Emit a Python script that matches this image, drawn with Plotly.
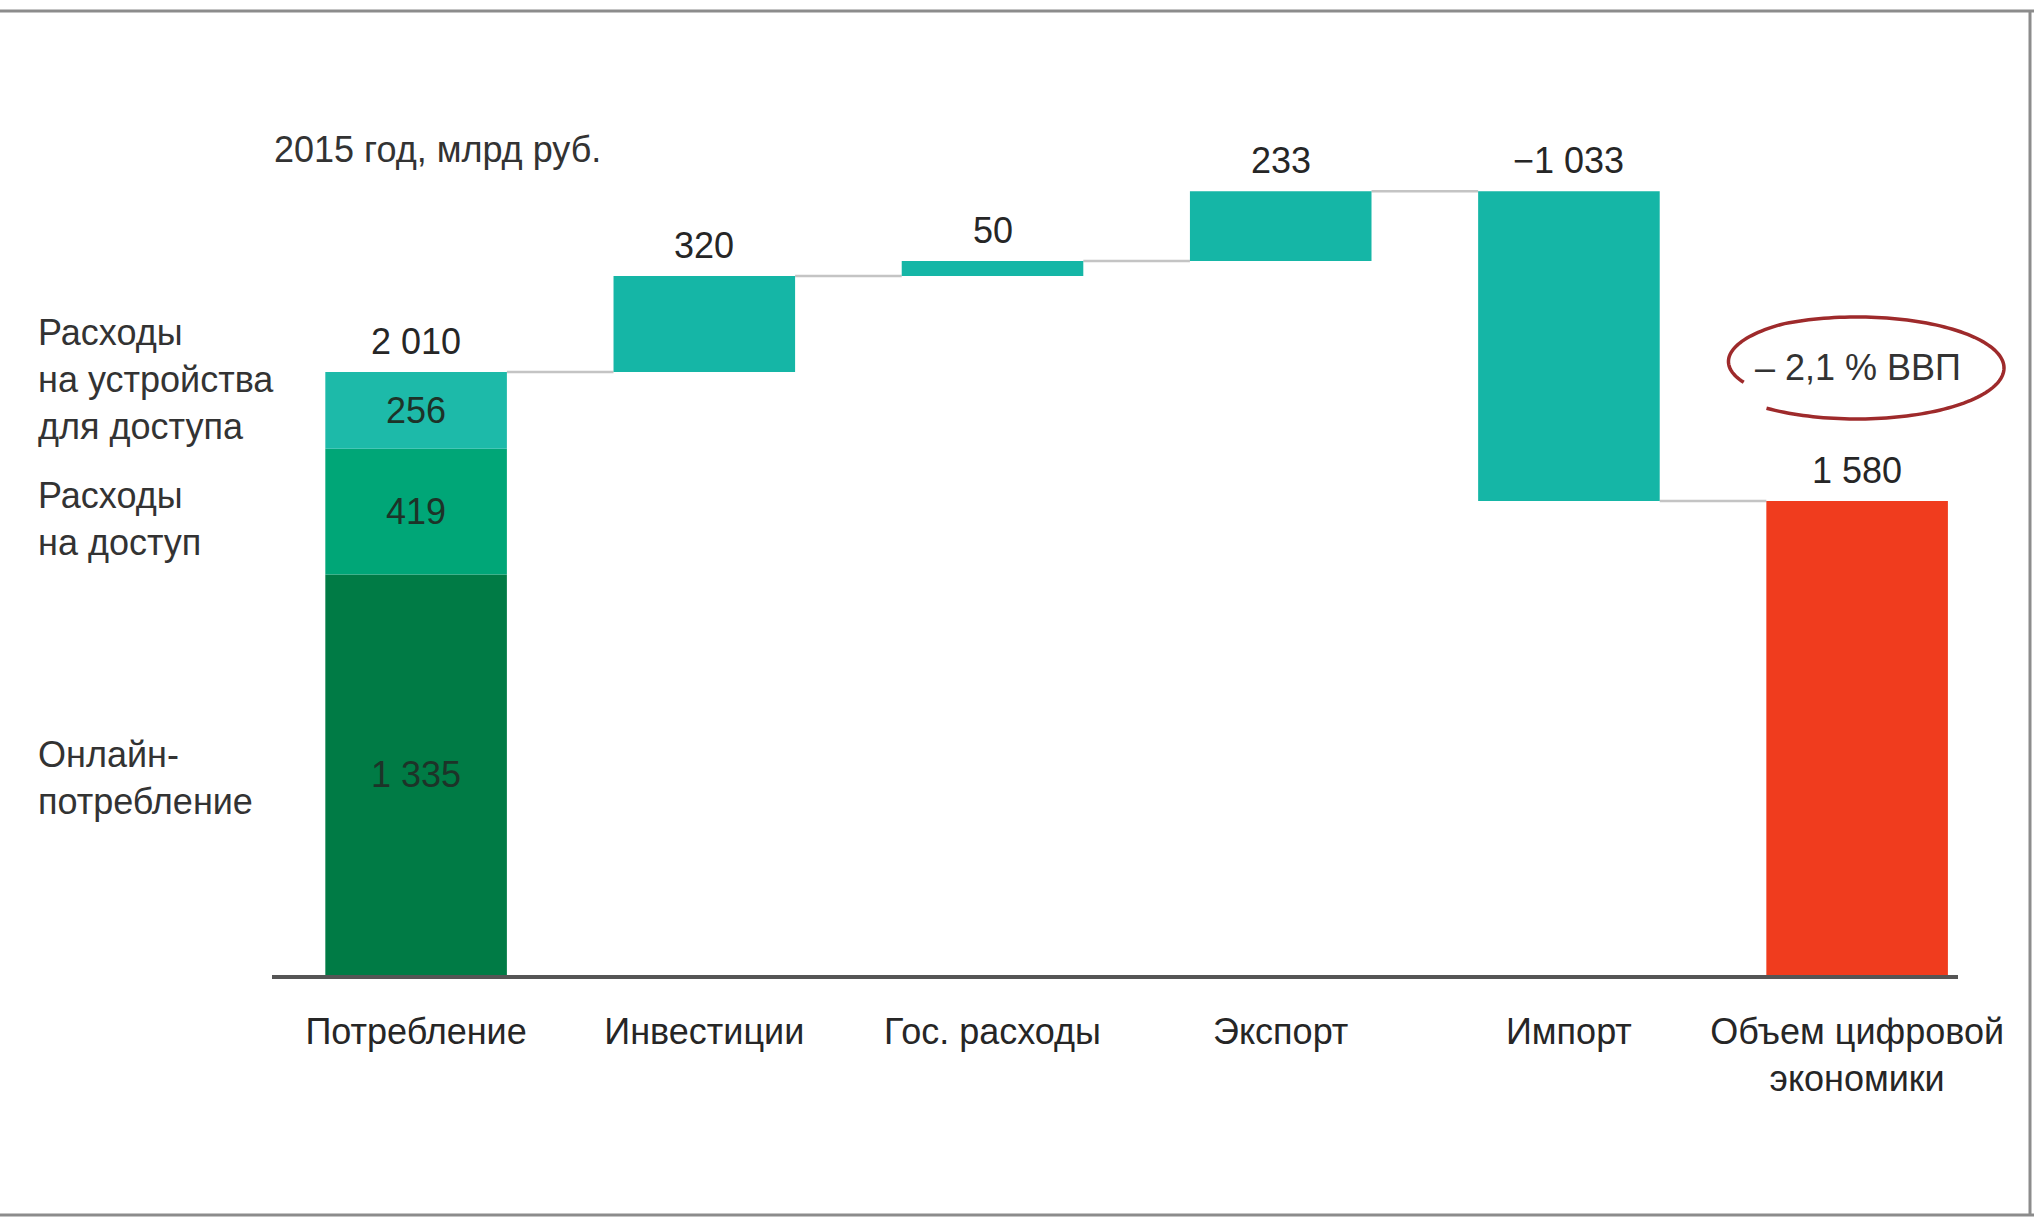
import numpy as np
import plotly.graph_objects as go

# ---------------- data ----------------
categories = ["Потребление", "Инвестиции", "Гос. расходы", "Экспорт", "Импорт",
              "Объем цифровой<br>экономики"]
consumption_parts = [1335, 419, 256]
consumption_part_labels = ["1 335", "419", "256"]
consumption_part_names = ["Онлайн-<br>потребление", "Расходы<br>на доступ",
                          "Расходы<br>на устройства<br>для доступа"]
deltas = [320, 50, 233, -1033]          # Инвестиции, Гос. расходы, Экспорт, Импорт
total_value = 1580
value_labels = ["2 010", "320", "50", "233", "−1 033", "1 580"]
subtitle = "2015 год, млрд руб."
gdp_note = "– 2,1 % ВВП"

# ---------------- style ----------------
W, H = 2034, 1220
ML, MR, MT, MB = 272, 76, 100, 245
FONT = "Liberation Sans, Arial, sans-serif"
FS = 36
TXT = "#262626"
part_colors = ["#007B45", "#00A677", "#1DBAA9"]
teal = "#15B6A6"
red = "#F03C1E"
BW = 0.63


def px(xp):
    return (xp - ML) / (W - ML - MR)


def py(yp):
    return (H - MB - yp) / (H - MT - MB)


fig = go.Figure()

# stacked consumption bar
base = 0
for val, lab, col in zip(consumption_parts, consumption_part_labels, part_colors):
    fig.add_trace(go.Bar(x=[0], y=[val], base=[base], width=BW, marker_color=col,
                         marker_line_width=0, text=[lab], textposition="inside",
                         insidetextanchor="middle", textangle=0,
                         textfont=dict(size=FS, color="#1d3328", family=FONT),
                         showlegend=False, hoverinfo="skip"))
    base += val
consumption_total = base

# delta bars
level = consumption_total
d_x, d_base, d_h, tops, levels = [], [], [], [consumption_total], [consumption_total]
for i, d in enumerate(deltas):
    new = level + d
    d_x.append(i + 1)
    d_base.append(min(level, new))
    d_h.append(abs(d))
    tops.append(max(level, new))
    level = new
    levels.append(level)
fig.add_trace(go.Bar(x=d_x, y=d_h, base=d_base, width=BW, marker_color=teal,
                     marker_line_width=0, showlegend=False, hoverinfo="skip"))

# total bar
fig.add_trace(go.Bar(x=[5], y=[total_value], base=[0], width=BW, marker_color=red,
                     marker_line_width=0, showlegend=False, hoverinfo="skip"))
tops.append(total_value)

# connectors
for i in range(5):
    fig.add_shape(type="line", xref="x", yref="y",
                  x0=i + BW / 2, x1=i + 1 - BW / 2, y0=levels[i], y1=levels[i],
                  line=dict(color="#c4c4c4", width=2.5), layer="below")

# value labels above bars
for i, (t, lab) in enumerate(zip(tops, value_labels)):
    fig.add_annotation(x=i, y=t, text=lab, showarrow=False, yanchor="middle",
                       yshift=31, font=dict(size=FS, color=TXT, family=FONT))

# left labels for consumption parts
left_label_y = [778, 519, 380]
for name, yp in zip(consumption_part_names, left_label_y):
    fig.add_annotation(xref="paper", yref="paper", x=px(36), y=py(yp), text=name,
                       showarrow=False, xanchor="left", yanchor="middle", align="left",
                       font=dict(size=FS, color="#333333", family=FONT))

# subtitle
fig.add_annotation(xref="paper", yref="paper", x=px(272), y=py(149), text=subtitle,
                   showarrow=False, xanchor="left", yanchor="middle",
                   font=dict(size=FS, color="#333333", family=FONT))

# GDP note + hand-drawn ellipse
fig.add_annotation(xref="paper", yref="paper", x=px(1858), y=py(367), text=gdp_note,
                   showarrow=False, xanchor="center", yanchor="middle",
                   font=dict(size=FS, color="#333333", family=FONT))
cx, cy, rx, ry = 1857, 368, 147, 51
t = np.radians(np.linspace(232, 560, 160))
shrink = 1 - 0.18 * np.clip((np.degrees(t) - 480) / 80, 0, 1)
xs = cx + rx * shrink * np.cos(t)
ys = cy - ry * shrink * np.sin(t)
path = "M " + " L ".join(f"{px(a):.5f},{py(b):.5f}" for a, b in zip(xs, ys))
fig.add_shape(type="path", xref="paper", yref="paper", path=path,
              line=dict(color="#9E2A2B", width=3.5))

# frame lines of the picture
for x0, y0, x1, y1 in [(0, 11, W, 11), (0, 1215, W, 1215), (2030, 11, 2030, 1215)]:
    fig.add_shape(type="line", xref="paper", yref="paper",
                  x0=px(x0), y0=py(y0), x1=px(x1), y1=py(y1),
                  line=dict(color="#8c8c8c", width=3))

fig.update_layout(
    width=W, height=H, margin=dict(l=ML, r=MR, t=MT, b=MB),
    paper_bgcolor="white", plot_bgcolor="white", barmode="overlay",
    showlegend=False,
    xaxis=dict(range=[-0.5, 5.35], tickvals=list(range(6)), ticktext=categories,
               tickfont=dict(size=FS, color=TXT, family=FONT), showgrid=False,
               zeroline=False, showline=True, linecolor="#555555", linewidth=4,
               ticks="", ticklabelstandoff=22, fixedrange=True),
    yaxis=dict(range=[0, 2917], visible=False, showgrid=False, zeroline=False,
               fixedrange=True),
)

fig.write_html("out.html", config={"displayModeBar": False},
               post_script="document.body.style.margin='0';")
